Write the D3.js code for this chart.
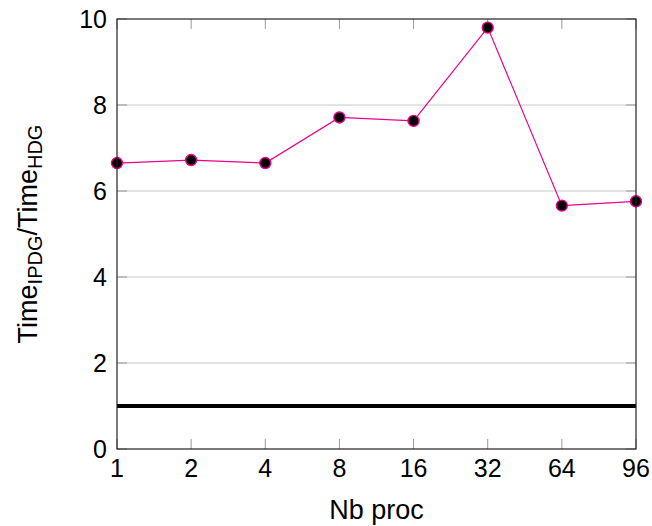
<!DOCTYPE html>
<html>
<head>
<meta charset="utf-8">
<style>
    body {
        margin: 0;
        padding: 0;
        background: white;
        overflow: hidden;
    }
    text {
        font-family: "Liberation Sans", "DejaVu Sans", sans-serif;
        fill: black;
    }
    .grid line {
        stroke: #c8c8c8;
        stroke-width: 1px;
    }
    .tick-mark {
        stroke: #999;
        stroke-width: 1px;
    }
</style>
</head>
<body>
<script src="https://d3js.org/d3.v7.min.js"></script>
<script>
// data
var procs = ["1", "2", "4", "8", "16", "32", "64", "96"];
var ratio = [6.65, 6.72, 6.65, 7.71, 7.63, 9.80, 5.66, 5.76];
var yTicks = [0, 2, 4, 6, 8, 10];
var baseline = 1;

var margin = { top: 19, right: 16, bottom: 77, left: 117 },
    width = 652 - margin.left - margin.right,
    height = 526 - margin.top - margin.bottom;

var svg = d3.select("body").append("svg")
    .attr("width", 652)
    .attr("height", 526)
    .append("g")
    .attr("transform", "translate(" + margin.left + "," + margin.top + ")");

var x = d3.scalePoint()
    .domain(procs)
    .range([0, width]);

var y = d3.scaleLinear()
    .domain([0, 10])
    .range([height, 0]);

// horizontal grid
svg.append("g")
    .attr("class", "grid")
    .selectAll("line")
    .data(yTicks.filter(function(d) { return d > 0 && d < 10; }))
    .enter().append("line")
    .attr("x1", 0)
    .attr("x2", width)
    .attr("y1", function(d) { return y(d); })
    .attr("y2", function(d) { return y(d); });

// inner tick marks (pgfplots style)
var ticks = svg.append("g");
ticks.selectAll(".xb")
    .data(procs)
    .enter().append("line")
    .attr("class", "tick-mark")
    .attr("x1", function(d) { return x(d); })
    .attr("x2", function(d) { return x(d); })
    .attr("y1", height)
    .attr("y2", height - 10);
ticks.selectAll(".xt")
    .data(procs)
    .enter().append("line")
    .attr("class", "tick-mark")
    .attr("x1", function(d) { return x(d); })
    .attr("x2", function(d) { return x(d); })
    .attr("y1", 0)
    .attr("y2", 10);
ticks.selectAll(".yl")
    .data(yTicks)
    .enter().append("line")
    .attr("class", "tick-mark")
    .attr("x1", 0)
    .attr("x2", 10)
    .attr("y1", function(d) { return y(d); })
    .attr("y2", function(d) { return y(d); });
ticks.selectAll(".yr")
    .data(yTicks)
    .enter().append("line")
    .attr("class", "tick-mark")
    .attr("x1", width)
    .attr("x2", width - 10)
    .attr("y1", function(d) { return y(d); })
    .attr("y2", function(d) { return y(d); });

// tick labels
svg.append("g")
    .selectAll("text")
    .data(procs)
    .enter().append("text")
    .attr("x", function(d) { return x(d); })
    .attr("y", height + 28)
    .style("font-size", "25px")
    .style("text-anchor", "middle")
    .text(function(d) { return d; });

svg.append("g")
    .selectAll("text")
    .data(yTicks)
    .enter().append("text")
    .attr("x", -10)
    .attr("y", function(d) { return y(d) + 9; })
    .style("font-size", "25px")
    .style("text-anchor", "end")
    .text(function(d) { return d; });

// reference line at 1
svg.append("line")
    .attr("x1", 0)
    .attr("x2", width)
    .attr("y1", y(baseline))
    .attr("y2", y(baseline))
    .attr("stroke", "black")
    .attr("stroke-width", 4);

// series
var line = d3.line()
    .x(function(d, i) { return x(procs[i]); })
    .y(function(d) { return y(d); });

svg.append("path")
    .datum(ratio)
    .attr("d", line)
    .attr("fill", "none")
    .attr("stroke", "#ec008c")
    .attr("stroke-width", 1.2);

svg.selectAll(".dot")
    .data(ratio)
    .enter().append("circle")
    .attr("class", "dot")
    .attr("cx", function(d, i) { return x(procs[i]); })
    .attr("cy", function(d) { return y(d); })
    .attr("r", 5.5)
    .attr("fill", "black")
    .attr("stroke", "#ec008c")
    .attr("stroke-width", 1.4);

// frame
svg.append("rect")
    .attr("x", 0)
    .attr("y", 0)
    .attr("width", width)
    .attr("height", height)
    .attr("fill", "none")
    .attr("stroke", "#222")
    .attr("stroke-width", 1.2);

// axis labels
svg.append("text")
    .attr("x", width / 2)
    .attr("y", height + 70)
    .style("font-size", "27px")
    .style("text-anchor", "middle")
    .text("Nb proc");

var ylab = svg.append("text")
    .attr("transform", "translate(-80," + (height / 2) + ") rotate(-90)")
    .style("font-size", "27px")
    .style("text-anchor", "middle");
ylab.append("tspan").text("Time");
ylab.append("tspan").attr("dy", 5).style("font-size", "20px").text("IPDG");
ylab.append("tspan").attr("dy", -5).text("/Time");
ylab.append("tspan").attr("dy", 5).style("font-size", "20px").text("HDG");
</script>
</body>
</html>
